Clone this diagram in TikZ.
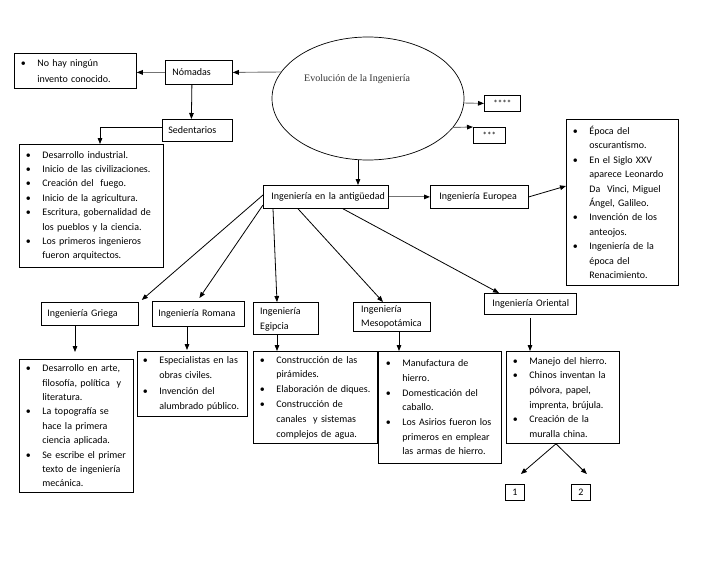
\documentclass[tikz,border=0pt]{standalone}
\usepackage{fontspec}
\setmainfont{Carlito}
\newfontfamily\tnrfont{Liberation Serif}
\usetikzlibrary{arrows.meta,shapes.geometric,calc}
\newcommand\bitem{\makebox[19pt][l]{\hspace{2.5pt}\textbullet}}
\newcommand\bcont{\hspace*{19pt}}
\tikzset{
  bx/.style={draw, line width=0.8pt, rectangle, anchor=north west, inner ysep=0pt, inner xsep=4pt, align=left, font=\fontsize{10}{14.4}\selectfont},
  lbl/.style={bx, inner xsep=7pt},
  plain/.style={draw, line width=0.8pt, rectangle, anchor=north west, inner sep=0pt},
  txt/.style={anchor=north west, inner sep=0pt, align=left, font=\fontsize{10}{14.4}\selectfont},
  arr/.style={-{Triangle[length=6pt,width=4.6pt]}, line width=0.8pt},
  garr/.style={-{Triangle[length=6pt,width=4.6pt,color=black]}, line width=0.9pt, draw=black!55},
}
\begin{document}
\begin{tikzpicture}[x=1pt,y=-1pt]
\path[use as bounding box, fill=white] (0,0) rectangle (728,563);

% top part
\node[bx, font=\fontsize{10}{16}\selectfont, minimum width=122pt, minimum height=35pt, text width=114pt] (nohay) at (14,53)
  {\bitem No hay ningún\\\bcont invento conocido.};
\node[lbl, minimum width=67pt, minimum height=24pt, text width=53pt] (nom) at (165,60) {\mbox{Nómadas}};
\node[lbl, inner xsep=6pt, minimum width=70pt, minimum height=22pt, text width=58pt] (sed) at (162,119) {\mbox{Sedentarios}};
\node[bx, minimum width=144pt, minimum height=123pt, text width=136pt] (sedl) at (19,144)
  {\bitem Desarrollo industrial.\\
   \bitem Inicio de las civilizaciones.\\
   \bitem Creación del\ \ fuego.\\
   \bitem Inicio de la agricultura.\\
   \bitem Escritura, gobernalidad de\\
   \bcont los pueblos y la ciencia.\\
   \bitem Los primeros ingenieros\\
   \bcont fueron arquitectos.};

\node[draw, ellipse, line width=0.7pt, minimum width=192pt, minimum height=123pt, inner sep=0pt] (ev) at (368,98.5) {};
\node[anchor=west, inner sep=0pt, text=black!80, font=\tnrfont\fontsize{10}{12}\selectfont] (evt) at (304,79) {Evolución de la Ingeniería};

\node[plain, minimum width=36pt, minimum height=16pt, font=\fontsize{9}{10}\selectfont] (s4) at (484,95) {\raisebox{-3pt}{****}};
\node[plain, minimum width=32pt, minimum height=16pt, font=\fontsize{9}{10}\selectfont] (s3) at (473,127) {\raisebox{-3pt}{***}};

\node[lbl, inner xsep=8pt, minimum width=125pt, minimum height=23pt, text width=109pt] (ant) at (263,185) {\mbox{Ingeniería en la antigüedad}};
\node[lbl, inner xsep=9pt, minimum width=98pt, minimum height=23pt, text width=80pt] (eur) at (430,185) {\mbox{Ingeniería Europea}};
\node[bx, minimum width=112pt, minimum height=166pt, text width=104pt] (epl) at (566,119)
  {\bitem Época del\\
   \bcont oscurantismo.\\
   \bitem En el Siglo XXV\\
   \bcont aparece Leonardo\\
   \bcont Da\ \ Vinci, Miguel\\
   \bcont Ángel, Galileo.\\
   \bitem Invención de los\\
   \bcont anteojos.\\
   \bitem Ingeniería de la\\
   \bcont época del\\
   \bcont Renacimiento.};

% second row
\node[lbl, inner xsep=6pt, minimum width=97pt, minimum height=23pt, text width=85pt] (gr) at (41,302) {\mbox{Ingeniería Griega}};
\node[lbl, inner xsep=6pt, minimum width=92pt, minimum height=25pt, text width=80pt] (ro) at (152,301) {\mbox{Ingeniería Romana}};
\node[plain, minimum width=65pt, minimum height=32pt] (eg) at (253,302) {};
\node[txt, font=\fontsize{10}{15}\selectfont] (egt) at (260,307) {Ingeniería\\Egipcia};
\node[plain, minimum width=77pt, minimum height=29pt] (me) at (353,302) {};
\node[txt] (met) at (361,305) {Ingeniería\\Mesopotámica};
\node[lbl, inner xsep=8pt, minimum width=92pt, minimum height=21pt, text width=76pt] (ori) at (484,293) {\mbox{Ingeniería Oriental}};

% lists
\node[bx, minimum width=114pt, minimum height=133pt, text width=106pt] (grl) at (19,359)
  {\bitem Desarrollo en arte,\\
   \bcont filosofía, política\ \ y\\
   \bcont literatura.\\
   \bitem La topografía se\\
   \bcont hace la primera\\
   \bcont ciencia aplicada.\\
   \bitem Se escribe el primer\\
   \bcont texto de ingeniería\\
   \bcont mecánica.};
\node[bx, font=\fontsize{10}{15.6}\selectfont, inner xsep=3pt, minimum width=110pt, minimum height=65pt, text width=104pt] (rol) at (137,351)
  {\bitem Especialistas en las\\
   \bcont obras civiles.\\
   \bitem Invención del\\
   \bcont alumbrado público.};
\node[bx, font=\fontsize{10}{14.8}\selectfont, minimum width=124pt, minimum height=92pt, text width=116pt] (egl) at (253,351)
  {\bitem Construcción de las\\
   \bcont pirámides.\\
   \bitem Elaboración de diques.\\
   \bitem Construcción de\\
   \bcont canales\ \ y sistemas\\
   \bcont complejos de agua.};
\node[bx, font=\fontsize{10}{14.7}\selectfont, inner xsep=5pt, minimum width=123pt, minimum height=112pt, text width=113pt] (mel) at (378,351)
  {\bitem Manufactura de\\
   \bcont hierro.\\
   \bitem Domesticación del\\
   \bcont caballo.\\
   \bitem Los Asirios fueron los\\
   \bcont primeros en emplear\\
   \bcont las armas de hierro.};
\node[bx, font=\fontsize{10}{14.7}\selectfont, minimum width=113pt, minimum height=92pt, text width=105pt] (orl) at (506,351)
  {\bitem Manejo del hierro.\\
   \bitem Chinos inventan la\\
   \bcont pólvora, papel,\\
   \bcont imprenta, brújula.\\
   \bitem Creación de la\\
   \bcont muralla china.};

\node[plain, minimum width=19pt, minimum height=16pt, font=\fontsize{10}{12}\selectfont] (b1) at (505,484) {1};
\node[plain, minimum width=19pt, minimum height=16pt, font=\fontsize{10}{12}\selectfont] (b2) at (571,484) {2};

% connectors
\draw[garr] ($(ev.center)+(-86.6,-26.5)$) -- (nom.east);
\draw[garr] (nom.west) -- (nom.west -| nohay.east);
\draw[arr] ($(nom.south)+(-7,0)$) -- ($(sed.north)+(-6,0)$);
\draw[arr] ($(sed.west)+(0,-3)$) -| ($(sedl.north west)+(81,0)$);
\draw[garr] ($(ev.center)+(95.8,4.5)$) -- (s4.west);
\draw[garr] ($(ev.center)+(84.2,29)$) -- (s3.north west);
\draw[arr] ($(ev.center)+(-10,61.2)$) coordinate (e1) -- (e1 |- ant.north);
\draw[garr] (ant.east) -- (eur.west);
\draw[arr] (eur.east) -- ($(epl.north west)+(0,67)$);

\draw[arr] ($(ant.north west)+(0,10)$) -- ($(gr.north east)+(3,-2)$);
\draw[arr] ($(ant.north west)+(0,20)$) -- ($(ro.north)+(1,-3)$);
\draw[arr] ($(ant.south west)+(10,0)$) -- ($(eg.north west)+(24,0)$);
\draw[arr] ($(ant.south west)+(35,0)$) -- ($(me.north west)+(30,0)$);
\draw[arr] ($(ant.south west)+(80,0)$) -- ($(ori.north west)+(15,0)$);

\draw[arr, shorten >=7pt] ($(gr.south west)+(34,0)$) coordinate (g1) -- (g1 |- grl.north);
\draw[arr, shorten >=1pt] ($(ro.south west)+(35,0)$) coordinate (r1) -- (r1 |- rol.north);
\draw[arr] ($(eg.south west)+(24,0)$) coordinate (q1) -- (q1 |- egl.north);
\draw[arr] ($(me.south west)+(46,0)$) coordinate (m1) -- (m1 |- mel.north);
\draw[arr] ($(ori.south west)+(46,3)$) coordinate (o1) -- (o1 |- orl.north);
\draw[arr] ($(orl.south west)+(50,0)$) -- ($(b1.north)+(6,-10)$);
\draw[arr] ($(orl.south west)+(50,0)$) -- ($(b2.north)+(6,-10)$);
\end{tikzpicture}
\end{document}
